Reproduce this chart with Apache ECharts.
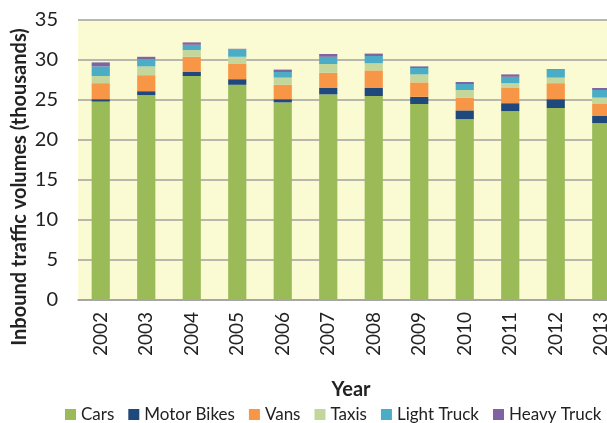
<!DOCTYPE html>
<html>
	<head>
		<meta charset="UTF-8">
		<script src="https://cdn.jsdelivr.net/npm/echarts@6/dist/echarts.min.js"></script>
		<style>
			html, body { margin: 0; padding: 0; background: #fff; }
			#chart { width: 607px; height: 423px; }
		</style>
	</head>
	<body>
		<div id="chart"></div>
		<script type="text/javascript">
			// 年份与各车型数据（千辆）
			var years = ['2002', '2003', '2004', '2005', '2006', '2007', '2008', '2009', '2010', '2011', '2012', '2013'];
			var cars = [24.8, 25.6, 28.0, 26.9, 24.7, 25.7, 25.5, 24.5, 22.6, 23.6, 24.0, 22.1];
			var motorBikes = [0.3, 0.5, 0.5, 0.7, 0.4, 0.8, 1.0, 0.9, 1.1, 1.0, 1.1, 0.9];
			var vans = [2.0, 2.0, 1.9, 1.9, 1.8, 1.9, 2.2, 1.8, 1.6, 1.9, 2.0, 1.5];
			var taxis = [0.9, 1.1, 0.85, 0.9, 0.9, 1.1, 0.9, 1.0, 0.95, 0.6, 0.7, 0.8];
			var lightTruck = [1.2, 0.9, 0.65, 0.9, 0.7, 0.9, 0.9, 0.8, 0.75, 0.8, 0.95, 0.95];
			var heavyTruck = [0.5, 0.3, 0.3, 0.1, 0.3, 0.35, 0.3, 0.2, 0.25, 0.3, 0.1, 0.25];
			var yTicks = [0, 5, 10, 15, 20, 25, 30, 35];

			var font = 'Lato, "Noto Sans", sans-serif';
			var names = ['Cars', 'Motor Bikes', 'Vans', 'Taxis', 'Light Truck', 'Heavy Truck'];
			var colors = ['#9BBB59', '#1F497D', '#F79646', '#C3D69B', '#4BACC6', '#8064A2'];
			var values = [cars, motorBikes, vans, taxis, lightTruck, heavyTruck];

			var series = [];
			for (var i = 0; i < names.length; i++) {
				series.push({
					name: names[i],
					type: 'bar',
					stack: 'total',
					barWidth: '40%',
					data: values[i],
					itemStyle: { color: colors[i] }
				});
			}

			var myChart = echarts.init(document.getElementById('chart'));
			myChart.setOption({
				animation: false,
				color: colors,
				grid: {
					left: 78,
					top: 20,
					width: 546,
					height: 280,
					outerBoundsMode: 'none',
					containLabel: false,
					show: true,
					backgroundColor: '#FBFBD3',
					borderWidth: 0
				},
				legend: {
					data: names,
					left: 60,
					top: 401,
					width: 620,
					itemWidth: 11,
					itemHeight: 11,
					itemGap: 14,
					icon: 'rect',
					textStyle: { fontFamily: font, fontSize: 17, color: '#222' }
				},
				// 纵轴标题（Excel 里它不在绘图区正中）
				graphic: [{
					type: 'text',
					x: 20,
					y: 187,
					rotation: Math.PI / 2,
					style: {
						text: 'Inbound traffic volumes (thousands)',
						fontFamily: font,
						fontSize: 20,
						fontWeight: 'bold',
						fill: '#222',
						align: 'center',
						verticalAlign: 'middle'
					}
				}],
				xAxis: {
					type: 'category',
					data: years,
					name: 'Year',
					nameLocation: 'middle',
					nameGap: 80,
					nameTextStyle: { fontFamily: font, fontSize: 20, fontWeight: 'bold', color: '#222' },
					axisTick: { show: false },
					axisLine: { lineStyle: { color: '#A0A0A0', width: 1.5 } },
					axisLabel: { rotate: 90, margin: 12, fontFamily: font, fontSize: 19, color: '#222' }
				},
				yAxis: {
					type: 'value',
					min: yTicks[0],
					max: yTicks[yTicks.length - 1],
					interval: 5,
					axisLine: { show: false },
					axisTick: { show: false },
					splitLine: { lineStyle: { color: '#A0A0A0', width: 1.5 } },
					axisLabel: { margin: 20, fontFamily: font, fontSize: 20, color: '#222' }
				},
				series: series
			});
		</script>
	</body>
</html>
